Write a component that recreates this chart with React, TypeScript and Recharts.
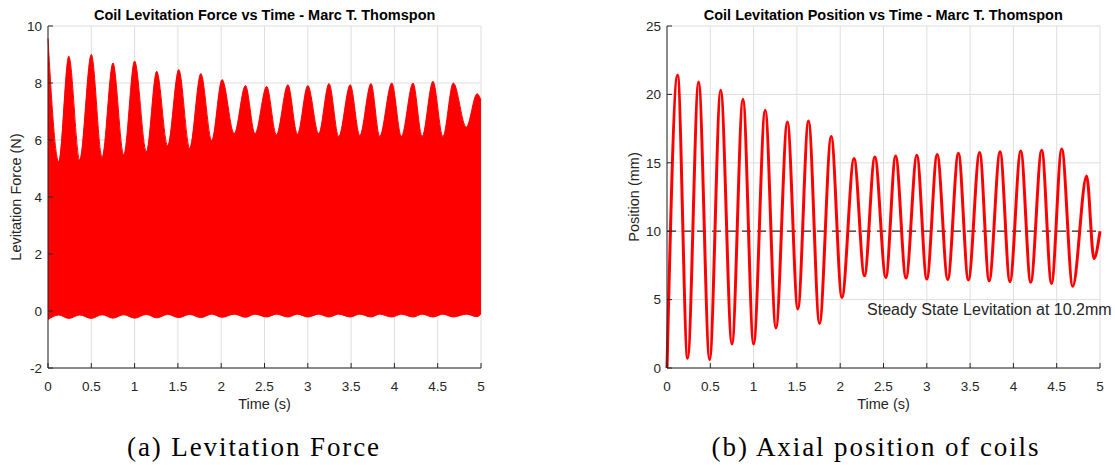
import React from "react";
import {
  Area,
  CartesianGrid,
  ComposedChart,
  Line,
  LineChart,
  ReferenceDot,
  ReferenceLine,
  XAxis,
  YAxis,
} from "recharts";

// time ticks shared by both plots
const timeTicks = [0, 0.5, 1, 1.5, 2, 2.5, 3, 3.5, 4, 4.5, 5];
const forceTicks = [-2, 0, 2, 4, 6, 8, 10];
const positionTicks = [0, 5, 10, 15, 20, 25];

// levitation force: envelope of the fast oscillation (peaks / valleys of the top edge)
const forceTime = [
  0, 0.124, 0.24, 0.366, 0.5, 0.624, 0.75, 0.874, 1.0, 1.136, 1.255, 1.382, 1.51, 1.636,
  1.765, 1.89, 2.01, 2.15, 2.28, 2.39, 2.525, 2.637, 2.77, 2.88, 3.0, 3.126, 3.245, 3.357,
  3.49, 3.6, 3.73, 3.83, 3.97, 4.08, 4.215, 4.32, 4.445, 4.56, 4.68, 4.83, 4.955, 5.0,
];
const forceUpper = [
  9.56, 5.24, 8.94, 5.3, 9.0, 5.39, 8.7, 5.47, 8.77, 5.59, 8.41, 5.79, 8.47, 5.71, 8.33,
  5.98, 8.12, 6.22, 7.91, 6.22, 7.88, 6.18, 7.94, 6.2, 7.91, 6.22, 7.98, 6.12, 7.94, 6.15,
  7.98, 6.12, 8.0, 6.12, 8.0, 6.12, 8.06, 6.12, 8.0, 6.45, 7.62, 7.4,
];
const forceLower = [
  -0.3, -0.14, -0.26, -0.14, -0.26, -0.13, -0.25, -0.13, -0.25, -0.12, -0.24, -0.12,
  -0.23, -0.12, -0.23, -0.11, -0.22, -0.11, -0.22, -0.11, -0.21, -0.11, -0.21, -0.11,
  -0.21, -0.11, -0.21, -0.11, -0.21, -0.11, -0.21, -0.11, -0.21, -0.11, -0.21, -0.11,
  -0.21, -0.11, -0.21, -0.11, -0.2, -0.1,
];

// coil axial position: turning points of the oscillation (mm)
const positionTime = [
  0, 0.122, 0.238, 0.365, 0.492, 0.62, 0.75, 0.877, 1.0, 1.134, 1.258, 1.39, 1.511, 1.634,
  1.761, 1.896, 2.02, 2.16, 2.28, 2.4, 2.527, 2.64, 2.76, 2.885, 3.0, 3.12, 3.242, 3.365,
  3.48, 3.61, 3.72, 3.846, 3.96, 4.085, 4.2, 4.327, 4.44, 4.558, 4.685, 4.846, 4.93, 5.0,
];
const positionValue = [
  0, 21.4, 0.71, 20.9, 0.61, 20.3, 1.75, 19.65, 1.75, 18.84, 2.92, 17.99, 4.31, 18.06,
  3.26, 16.92, 5.16, 15.31, 6.74, 15.43, 6.62, 15.5, 6.57, 15.55, 6.5, 15.6, 6.47, 15.7,
  6.43, 15.75, 6.38, 15.8, 6.31, 15.86, 6.26, 15.92, 6.18, 16.0, 5.97, 14.04, 8.0, 10.0,
];

const steadyLevel = 10;
const noteTime = 2.31;
const noteValue = 4.3;

const forceData = forceTime.map((t, i) => ({ t, range: [forceLower[i], forceUpper[i]] }));
const positionData = positionTime.map((t, i) => ({ t, pos: positionValue[i] }));

const FONT = "'Liberation Sans', Arial, Helvetica, sans-serif";
const SERIF = "'Liberation Serif', 'Times New Roman', serif";
const AX = "#262626";
const GRID = "#dedede";
const tickStyle = { fontSize: 13.5, fill: AX, fontFamily: FONT };
const blank = () => "";

const titleStyle = (center: number): React.CSSProperties => ({
  position: "absolute",
  left: center - 250,
  width: 500,
  top: 6,
  textAlign: "center",
  fontFamily: FONT,
  fontWeight: 700,
  fontSize: 14.5,
  lineHeight: "18px",
  color: "#000",
  whiteSpace: "nowrap",
});

const captionStyle = (center: number): React.CSSProperties => ({
  position: "absolute",
  left: center - 250,
  width: 500,
  top: 430,
  textAlign: "center",
  fontFamily: SERIF,
  fontSize: 27,
  letterSpacing: 1.9,
  lineHeight: "34px",
  color: "#000",
  whiteSpace: "nowrap",
});

const App: React.FC = () => {
  return (
    <div
      style={{
        position: "absolute",
        left: 0,
        top: 0,
        width: 1115,
        height: 465,
        background: "#fff",
      }}
    >
      <div style={{ position: "absolute", left: 0, top: 0 }}>
        <ComposedChart
          width={500}
          height={420}
          data={forceData}
          margin={{ top: 26, right: 19, bottom: 0, left: 0 }}
        >
          <CartesianGrid stroke={GRID} />
          <XAxis
            dataKey="t"
            type="number"
            domain={[0, 5]}
            ticks={timeTicks}
            height={52}
            stroke={AX}
            tick={tickStyle}
            tickSize={-5}
            tickMargin={18}
            label={{
              value: "Time (s)",
              position: "insideBottom",
              offset: 11,
              style: { fontSize: 14.5, fill: AX, fontFamily: FONT },
            }}
          />
          <XAxis
            xAxisId="top"
            orientation="top"
            type="number"
            domain={[0, 5]}
            ticks={timeTicks}
            height={0}
            mirror
            stroke={AX}
            tickSize={5}
            tickFormatter={blank}
          />
          <YAxis
            type="number"
            domain={[-2, 10]}
            ticks={forceTicks}
            width={48}
            stroke={AX}
            tick={tickStyle}
            tickSize={-5}
            tickMargin={11}
            label={{
              value: "Levitation Force (N)",
              angle: -90,
              position: "insideLeft",
              offset: 16,
              style: { fontSize: 14.5, fill: AX, fontFamily: FONT, textAnchor: "middle" },
            }}
          />
          <YAxis
            yAxisId="right"
            orientation="right"
            type="number"
            domain={[-2, 10]}
            ticks={forceTicks}
            width={0}
            mirror
            stroke={AX}
            tickSize={5}
            tickFormatter={blank}
          />
          <Area
            type="monotone"
            dataKey="range"
            stroke="#ff0000"
            strokeWidth={1}
            fill="#ff0000"
            fillOpacity={1}
            isAnimationActive={false}
          />
        </ComposedChart>
      </div>

      <div style={{ position: "absolute", left: 600, top: 0 }}>
        <LineChart
          width={515}
          height={420}
          data={positionData}
          margin={{ top: 26, right: 15, bottom: 0, left: 0 }}
        >
          <CartesianGrid stroke={GRID} />
          <XAxis
            dataKey="t"
            type="number"
            domain={[0, 5]}
            ticks={timeTicks}
            height={52}
            stroke={AX}
            tick={tickStyle}
            tickSize={-5}
            tickMargin={18}
            label={{
              value: "Time (s)",
              position: "insideBottom",
              offset: 11,
              style: { fontSize: 14.5, fill: AX, fontFamily: FONT },
            }}
          />
          <XAxis
            xAxisId="top"
            orientation="top"
            type="number"
            domain={[0, 5]}
            ticks={timeTicks}
            height={0}
            mirror
            stroke={AX}
            tickSize={5}
            tickFormatter={blank}
          />
          <YAxis
            type="number"
            domain={[0, 25]}
            ticks={positionTicks}
            width={67}
            stroke={AX}
            tick={tickStyle}
            tickSize={-5}
            tickMargin={11}
            label={{
              value: "Position (mm)",
              angle: -90,
              position: "insideLeft",
              offset: 34,
              style: { fontSize: 14.5, fill: AX, fontFamily: FONT, textAnchor: "middle" },
            }}
          />
          <YAxis
            yAxisId="right"
            orientation="right"
            type="number"
            domain={[0, 25]}
            ticks={positionTicks}
            width={0}
            mirror
            stroke={AX}
            tickSize={5}
            tickFormatter={blank}
          />
          <ReferenceLine
            y={steadyLevel}
            stroke="#2b2b2b"
            strokeWidth={1.2}
            strokeDasharray="9 6"
          />
          <Line
            type="monotone"
            dataKey="pos"
            stroke="#ff0000"
            strokeWidth={3}
            dot={false}
            isAnimationActive={false}
          />
          <ReferenceDot
            x={noteTime}
            y={noteValue}
            r={0}
            fill="none"
            stroke="none"
            ifOverflow="visible"
            label={{
              value: "Steady State Levitation at 10.2mm",
              position: "right",
              offset: 0,
              style: { fontSize: 16, fill: AX, fontFamily: FONT },
            }}
          />
        </LineChart>
      </div>

      <div style={titleStyle(264.7)}>Coil Levitation Force vs Time - Marc T. Thomspon</div>
      <div style={titleStyle(883.3)}>Coil Levitation Position vs Time - Marc T. Thomspon</div>

      <div style={captionStyle(254)}>(a) Levitation Force</div>
      <div style={captionStyle(876)}>(b) Axial position of coils</div>
    </div>
  );
};

export default App;
